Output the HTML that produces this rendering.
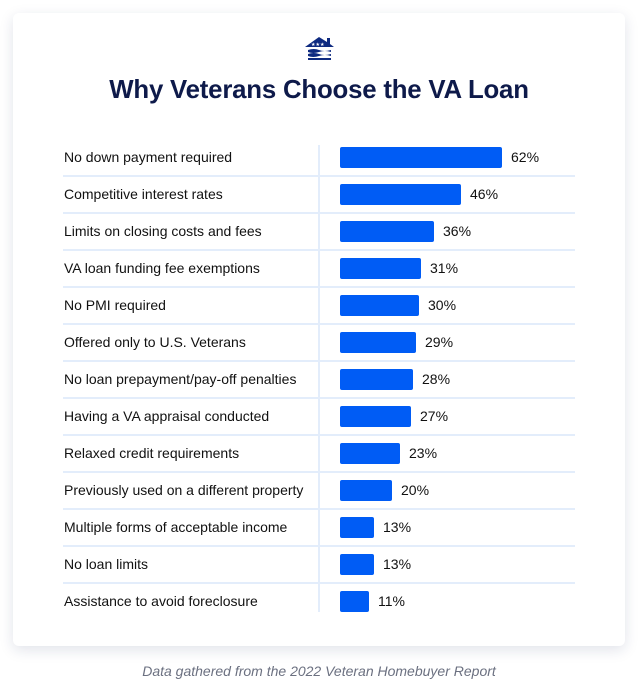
<!DOCTYPE html>
<html><head><style>
body{margin:0;width:638px;height:699px;background:#fff;font-family:"Liberation Sans",sans-serif;position:relative;overflow:hidden}
.card{position:absolute;left:13px;top:13px;width:612px;height:633px;background:#fff;border-radius:6px;box-shadow:0 4px 14px rgba(20,40,90,0.13)}
.t{position:absolute;left:0;width:638px;top:76px;text-align:center;font-weight:bold;font-size:25.8px;color:#0e1a4a;letter-spacing:-0.2px}
.l{position:absolute;left:64px;font-size:14px;color:#111}
.b{position:absolute;left:340px;height:21px;background:#005cf5;border-radius:2px}
.v{position:absolute;font-size:14px;color:#111}
.s{position:absolute;left:63px;width:512px;height:2px;background:#e3edfb}
.vl{position:absolute;left:318px;top:145px;width:2px;height:467px;background:#e3edfb}
.f{position:absolute;left:0;width:638px;top:663px;text-align:center;font-style:italic;font-size:14px;color:#6b7080}
</style></head><body>
<div class="card"></div>
<svg style="position:absolute;left:303px;top:35px" width="33" height="28" viewBox="0 0 33 28">
<path d="M2 12 L16 2 L24 7 L24 3 L27 3 L27 9 L31 12 Z" fill="#0e2a80"/>
<text x="8" y="11" font-size="5" fill="#fff" font-family="Liberation Sans">★★★</text>
<path d="M5 15 Q11 13 16 15 T28 15 L28 17 Q22 15 16 17 T5 17Z" fill="#0e2a80"/>
<path d="M5 19 Q11 17 16 19 T28 19 L28 21 Q22 19 16 21 T5 21Z" fill="#0e2a80"/>
<rect x="5" y="23" width="23" height="2" fill="#0e2a80"/>
</svg>
<div class="t">Why Veterans Choose the VA Loan</div>
<div class="vl"></div>
<div id="rows"></div>
<div class="f">Data gathered from the 2022 Veteran Homebuyer Report</div>
<script>
var d=[["No down payment required",62],["Competitive interest rates",46],["Limits on closing costs and fees",36],["VA loan funding fee exemptions",31],["No PMI required",30],["Offered only to U.S. Veterans",29],["No loan prepayment/pay-off penalties",28],["Having a VA appraisal conducted",27],["Relaxed credit requirements",23],["Previously used on a different property",20],["Multiple forms of acceptable income",13],["No loan limits",13],["Assistance to avoid foreclosure",11]];
var h="";
d.forEach(function(r,i){var c=157+37*i;var w=Math.round(r[1]*2.62);
h+='<div class="l" style="top:'+(c-8)+'px">'+r[0]+'</div>';
h+='<div class="b" style="top:'+(c-10)+'px;width:'+w+'px"></div>';
h+='<div class="v" style="top:'+(c-8)+'px;left:'+(340+w+9)+'px">'+r[1]+'%</div>';
if(i<12)h+='<div class="s" style="top:'+(c+18)+'px"></div>';});
document.getElementById("rows").innerHTML=h;
</script>
</body></html>
